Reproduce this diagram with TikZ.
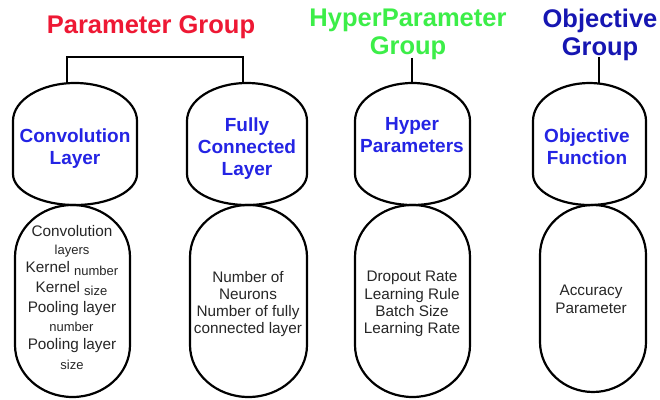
\documentclass[tikz,border=0pt]{standalone}
\usepackage{fontspec}
\setmainfont{Liberation Sans}
\usetikzlibrary{calc}

\definecolor{grpred}{RGB}{238,24,52}
\definecolor{grpgreen}{RGB}{60,238,72}
\definecolor{grpnavy}{RGB}{22,22,178}
\definecolor{headblue}{RGB}{36,36,228}
\definecolor{bodygray}{RGB}{38,38,38}

% Barrel / capsule outline: centre x, half width, top y, bottom y,
% radius of the top cap, radius of the bottom cap (y measured downwards)
\newcommand{\barrelshape}[6]{%
  \draw[shapeline] ({#1-#2},{399-#3-#5})
    arc[start angle=180,end angle=0,x radius=#2,y radius=#5]
    -- ({#1+#2},{399-#4+#6})
    arc[start angle=0,end angle=-180,x radius=#2,y radius=#6]
    -- cycle;}

\begin{document}
\begin{tikzpicture}[x=1pt,y=1pt,
  grouptitle/.style={font=\fontsize{25.5}{28}\selectfont\bfseries,align=center,inner sep=0pt},
  headtext/.style={font=\fontsize{19}{22}\selectfont\bfseries,text=headblue,align=center,inner sep=0pt},
  bodytext/.style={font=\fontsize{15.3}{17.2}\selectfont,text=bodygray,align=center,inner sep=0pt},
  smalltext/.style={font=\fontsize{13}{15}\selectfont,text=bodygray,inner sep=0pt},
  shapeline/.style={line width=2.2pt,black},
  stem/.style={line width=1.4pt,black}]

\useasboundingbox[fill=white] (0,0) rectangle (660,399);

% group titles
\node[grouptitle,text=grpred,anchor=base] (pgroup) at (151,365.5) {Parameter Group};
\node[grouptitle,text=grpgreen] (hgroup) at (408,364.9) {HyperParameter\\Group};
\node[grouptitle,text=grpnavy] (ogroup) at (600,364.1) {Objective\\Group};

% upper barrels
\barrelshape{75}{62}{83}{205}{38}{31}
\barrelshape{247}{60}{83}{205}{38}{31}
\barrelshape{412.5}{57.5}{83}{205}{38}{31}
\barrelshape{589.5}{56.5}{83}{205}{38}{31}

% lower capsules
\barrelshape{72.5}{57.5}{205}{397}{52}{52}
\barrelshape{248.5}{58.5}{205}{397}{52}{52}
\barrelshape{412.5}{57.5}{205}{397}{52}{52}
\barrelshape{593}{53}{205}{392}{50}{50}

% stems from the group titles to the barrels
\coordinate (convtop) at (67,316);
\coordinate (fctop)   at (243,316);
\coordinate (hptop)   at (412,316);
\coordinate (objtop)  at (599,316);
\coordinate (hpstem)  at (412,341);
\coordinate (objstem) at (599,342);
\draw[stem] (convtop) -- ++(0,26) -| (fctop);
\draw[stem] (hpstem) -- (hptop);
\draw[stem] (objstem) -- (objtop);

% barrel headings
\node[headtext] (convhead) at (75,250.15) {Convolution\\Layer};
\node[headtext] (fchead) at (247,250.15) {Fully\\Connected\\Layer};
\node[headtext] (hphead) at (412,263.65) {Hyper\\Parameters};
\node[headtext] (objhead) at (587,252.15) {Objective\\Function};

% convolution layer details
\node[bodytext,anchor=base] (cv1) at (72,162.8) {Convolution};
\node[smalltext,anchor=base] (cv2) at (72,144.5) {layers};
\node[bodytext,anchor=base] (cv3) at (72,127) {Kernel {\fontsize{13}{15}\selectfont\raisebox{-3pt}{number}}};
\node[bodytext,anchor=base] (cv4) at (71.5,106.5) {Kernel {\fontsize{13}{15}\selectfont\raisebox{-2.5pt}{size}}};
\node[bodytext,anchor=base] (cv5) at (72,86.5) {Pooling layer};
\node[smalltext,anchor=base] (cv6) at (71.5,67.6) {number};
\node[bodytext,anchor=base] (cv7) at (72,49.2) {Pooling layer};
\node[smalltext,anchor=base] (cv8) at (72,29.2) {size};

% other details
\node[bodytext] (fcbody) at (248,95) {Number of\\Neurons\\Number of fully\\connected layer};
\node[bodytext] (hpbody) at (412,95) {Dropout Rate\\Learning Rule\\Batch Size\\Learning Rate};
\node[bodytext] (objbody) at (591,99.65) {Accuracy\\Parameter};

\end{tikzpicture}
\end{document}
